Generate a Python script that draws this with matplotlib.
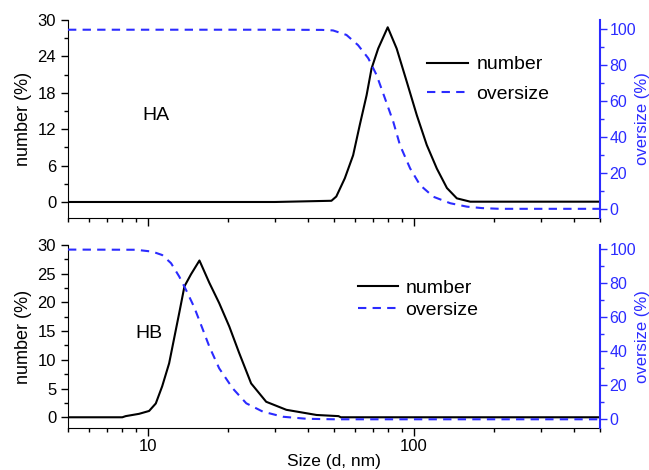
import matplotlib
matplotlib.use("Agg")
import matplotlib.pyplot as plt
from matplotlib.ticker import LogLocator, MultipleLocator, NullFormatter, FixedLocator, FixedFormatter
from matplotlib.lines import Line2D

plt.rcParams['font.family'] = ['Liberation Sans', 'DejaVu Sans']

BLUE = '#2b2bff'

# HA sample
ha_num_size = [5, 30, 48.9, 51, 54.9, 59, 62.5, 66.3, 69.2, 73.3, 79.6, 86, 93.9, 102.4, 111.6, 121.8, 132.9, 144.8, 162.6, 500]
ha_num_val = [0, 0, 0.2, 0.9, 3.9, 7.7, 12.7, 17.6, 22.0, 25.3, 28.8, 25.3, 19.8, 14.3, 9.4, 5.5, 2.3, 0.6, 0.05, 0.05]
ha_over_size = [5, 30, 45, 49.6, 55.7, 61.6, 67.3, 72.3, 77.7, 83.5, 88.5, 96.6, 105.3, 118.2, 136.8, 158, 180, 210, 500]
ha_over_val = [99.6, 99.6, 99.5, 99.2, 96.7, 91, 83.7, 74.4, 61.5, 48.5, 35.5, 22.6, 13.3, 6.8, 3.2, 1.3, 0.5, 0.1, 0.1]

# HB sample
hb_num_size = [5, 8.0, 8.24, 9.25, 10.09, 10.69, 11.3, 12.0, 12.5, 13.1, 13.7, 14.5, 15.6, 17.0, 18.5, 20.2, 22.0, 24.4, 27.8, 33.1, 43, 52, 53, 500]
hb_num_val = [0, 0, 0.2, 0.6, 1.1, 2.4, 5.4, 9.4, 13.5, 18.2, 22.8, 24.9, 27.3, 23.4, 19.9, 15.8, 11.2, 5.9, 2.7, 1.3, 0.4, 0.2, 0.0, 0.0]
hb_over_size = [5, 9.0, 10.38, 11.3, 12.2, 13.1, 13.9, 14.9, 16.0, 17.0, 18.5, 20.8, 23.4, 27.0, 32.1, 39.4, 50, 500]
hb_over_val = [99.8, 99.7, 98.6, 96.6, 91.8, 83.9, 76, 66, 53.5, 42.7, 30, 18.2, 9.4, 4.5, 1.5, 0.3, 0.0, 0.0]

fig = plt.figure(figsize=(6.49, 4.70), dpi=100)
W, H = 649, 470
def rect(x0, y0, x1, y1):
    return [x0 / W, 1 - y1 / H, (x1 - x0) / W, (y1 - y0) / H]

ax1 = fig.add_axes(rect(68, 20, 600, 218))
ax2 = fig.add_axes(rect(68, 245, 600, 428.3))

panels = [
    (ax1, ha_num_size, ha_num_val, ha_over_size, ha_over_val, 'HA', (-2.64, 30), 6, 3,
     (-5, 105), (142, 116), (0.656, 0.70), 0.62, 0.45, False),
    (ax2, hb_num_size, hb_num_val, hb_over_size, hb_over_val, 'HB', (-1.92, 30), 5, 2.5,
     (-5.3, 102.5), (135, 333), (0.526, 0.705), 0.26, 0.35, True),
]

for ax, ns, nv, os_, ov, lab, ylim, maj, mnr, ylim2, txy, legxy, lsp, htp, show_x in panels:
    ax.plot(ns, nv, color='black', lw=1.5)
    ax.set_xscale('log')
    ax.set_xlim(5, 500)
    ax.set_ylim(*ylim)
    ax.yaxis.set_major_locator(MultipleLocator(maj))
    ax.yaxis.set_minor_locator(MultipleLocator(mnr))
    ax.xaxis.set_major_locator(FixedLocator([10, 100]))
    ax.xaxis.set_minor_locator(LogLocator(base=10, subs=range(2, 10)))
    ax.xaxis.set_minor_formatter(NullFormatter())
    if show_x:
        ax.xaxis.set_major_formatter(FixedFormatter(['10', '100']))
        ax.set_xlabel('Size (d, nm)', fontsize=12.5, labelpad=0)
    else:
        ax.xaxis.set_major_formatter(NullFormatter())
    ax.spines['top'].set_visible(False)
    ax.spines['right'].set_visible(False)
    ax.tick_params(axis='both', which='major', direction='out', length=5, width=1, labelsize=12)
    ax.tick_params(axis='both', which='minor', direction='out', length=3, width=1)
    ax.tick_params(axis='x', which='major', length=6, pad=2)
    ax.set_ylabel('number (%)', fontsize=13, labelpad=4)
    ax.text(txy[0] / W, 1 - txy[1] / H, lab, transform=fig.transFigure, fontsize=14,
            va='center', ha='left')

    axr = ax.twinx()
    axr.plot(os_, ov, color=BLUE, lw=1.5, ls=(0, (4, 3)))
    axr.set_ylim(*ylim2)
    axr.yaxis.set_major_locator(MultipleLocator(20))
    axr.yaxis.set_minor_locator(MultipleLocator(10))
    axr.spines['top'].set_visible(False)
    axr.spines['left'].set_visible(False)
    axr.spines['bottom'].set_visible(False)
    axr.spines['right'].set_color(BLUE)
    axr.spines['right'].set_linewidth(1.5)
    axr.tick_params(axis='y', which='major', direction='out', length=5, width=1,
                    colors=BLUE, labelsize=11.5, pad=2)
    axr.tick_params(axis='y', which='minor', direction='out', length=3, width=1, colors=BLUE)
    axr.set_ylabel('oversize (%)', fontsize=12, color=BLUE, labelpad=-1)

    handles = [Line2D([], [], color='black', lw=1.5),
               Line2D([], [], color=BLUE, lw=1.5, ls=(0, (4, 3)))]
    axr.legend(handles, ['number', 'oversize'], loc='center left', bbox_to_anchor=legxy,
               frameon=False, fontsize=14, handlelength=2.1, handletextpad=htp,
               borderpad=0, labelspacing=lsp)

fig.savefig('out.png', dpi=100)
